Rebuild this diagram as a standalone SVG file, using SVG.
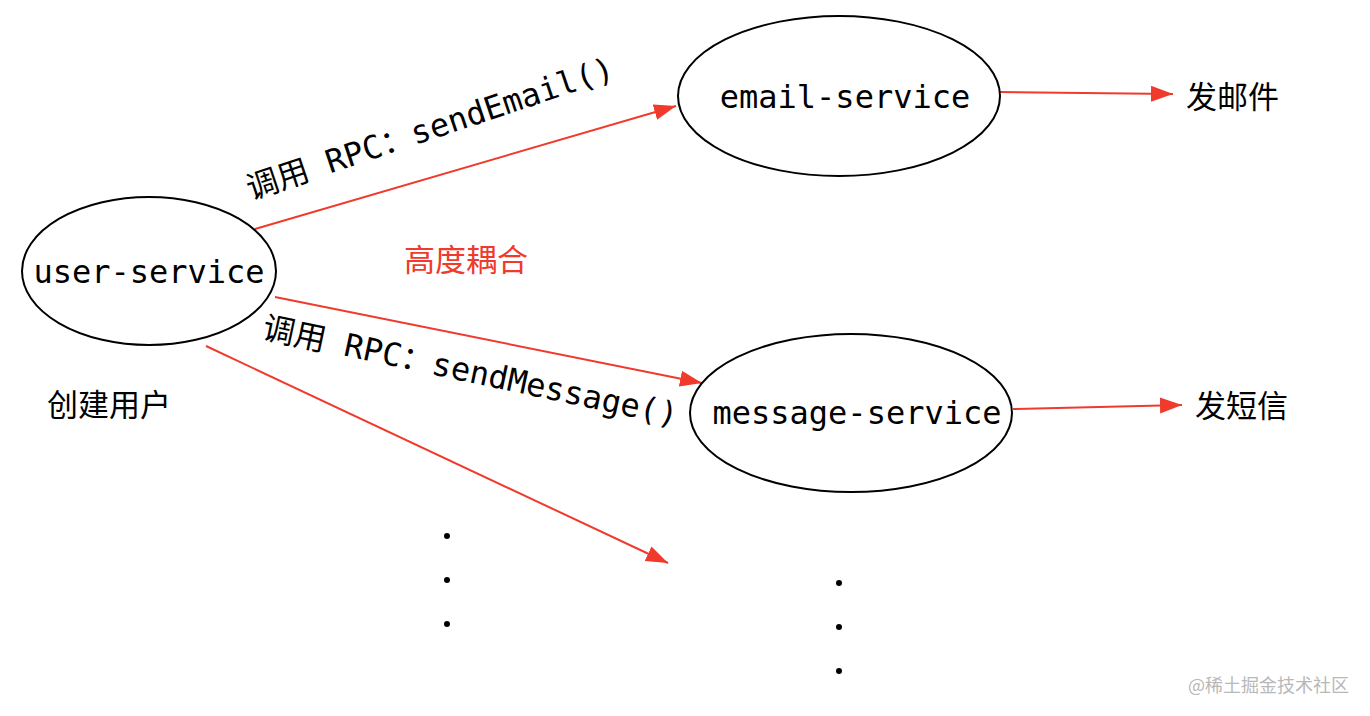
<svg xmlns="http://www.w3.org/2000/svg" width="1370" height="716" viewBox="0 0 1370 716">
<style>
.node ellipse{fill:#fff;stroke:#000;stroke-width:2}
.mono{font-family:"DejaVu Sans Mono","Liberation Mono","Noto Sans CJK SC",monospace;font-size:32px;fill:#000}
.cjk{font-family:"Noto Sans CJK SC","Liberation Sans",sans-serif;font-size:31px;fill:#000}
.edge{stroke:#ef3a2c;stroke-width:2;fill:none;marker-end:url(#arr)}
.dot{fill:#000}
</style>
<defs>
<marker id="arr" markerUnits="userSpaceOnUse" markerWidth="24" markerHeight="18" refX="22" refY="8" orient="auto">
<path d="M0,0 L22,8 L0,16 Z" fill="#ef3a2c"/>
</marker>
</defs>
<rect width="1370" height="716" fill="#fff"/>
<g id="connectors">
<line class="edge" x1="255" y1="229" x2="676" y2="106"/>
<line class="edge" x1="275" y1="297" x2="702" y2="383"/>
<line class="edge" x1="206" y1="346" x2="668" y2="563"/>
<line class="edge" x1="1000" y1="92" x2="1173" y2="94"/>
<line class="edge" x1="1013" y1="409" x2="1182" y2="405"/>
</g>
<g id="user-service" class="node">
<ellipse cx="149" cy="271" rx="127" ry="74"/>
<text class="mono" x="149" y="283" text-anchor="middle">user-service</text>
</g>
<g id="email-service" class="node">
<ellipse cx="839" cy="96" rx="161" ry="80"/>
<text class="mono" x="845" y="108" text-anchor="middle">email-service</text>
</g>
<g id="message-service" class="node">
<ellipse cx="851" cy="413" rx="161" ry="79"/>
<text class="mono" x="857" y="424" text-anchor="middle">message-service</text>
</g>
<g id="label-email">
<text class="mono" transform="translate(251,200) rotate(-18.5)">调用 RPC：sendEmail()</text>
</g>
<g id="label-message">
<text class="mono" transform="translate(261,338) rotate(12)">调用 RPC：sendMessage()</text>
</g>
<g id="coupling"><text class="cjk" x="404" y="271" style="fill:#ef3a2c">高度耦合</text></g>
<g id="create-user"><text class="cjk" x="47" y="416">创建用户</text></g>
<g id="send-mail"><text class="cjk" x="1186" y="108">发邮件</text></g>
<g id="send-sms"><text class="cjk" x="1195" y="417">发短信</text></g>
<g id="dots">
<circle class="dot" cx="447" cy="536" r="3"/>
<circle class="dot" cx="447" cy="580" r="3"/>
<circle class="dot" cx="447" cy="624" r="3"/>
<circle class="dot" cx="839" cy="583" r="3"/>
<circle class="dot" cx="839" cy="627" r="3"/>
<circle class="dot" cx="839" cy="671" r="3"/>
</g>
<text x="1188" y="692" style="font-family:'Noto Sans CJK SC','Liberation Sans',sans-serif;font-size:18px;fill:#b8b8b8">@稀土掘金技术社区</text>
</svg>
